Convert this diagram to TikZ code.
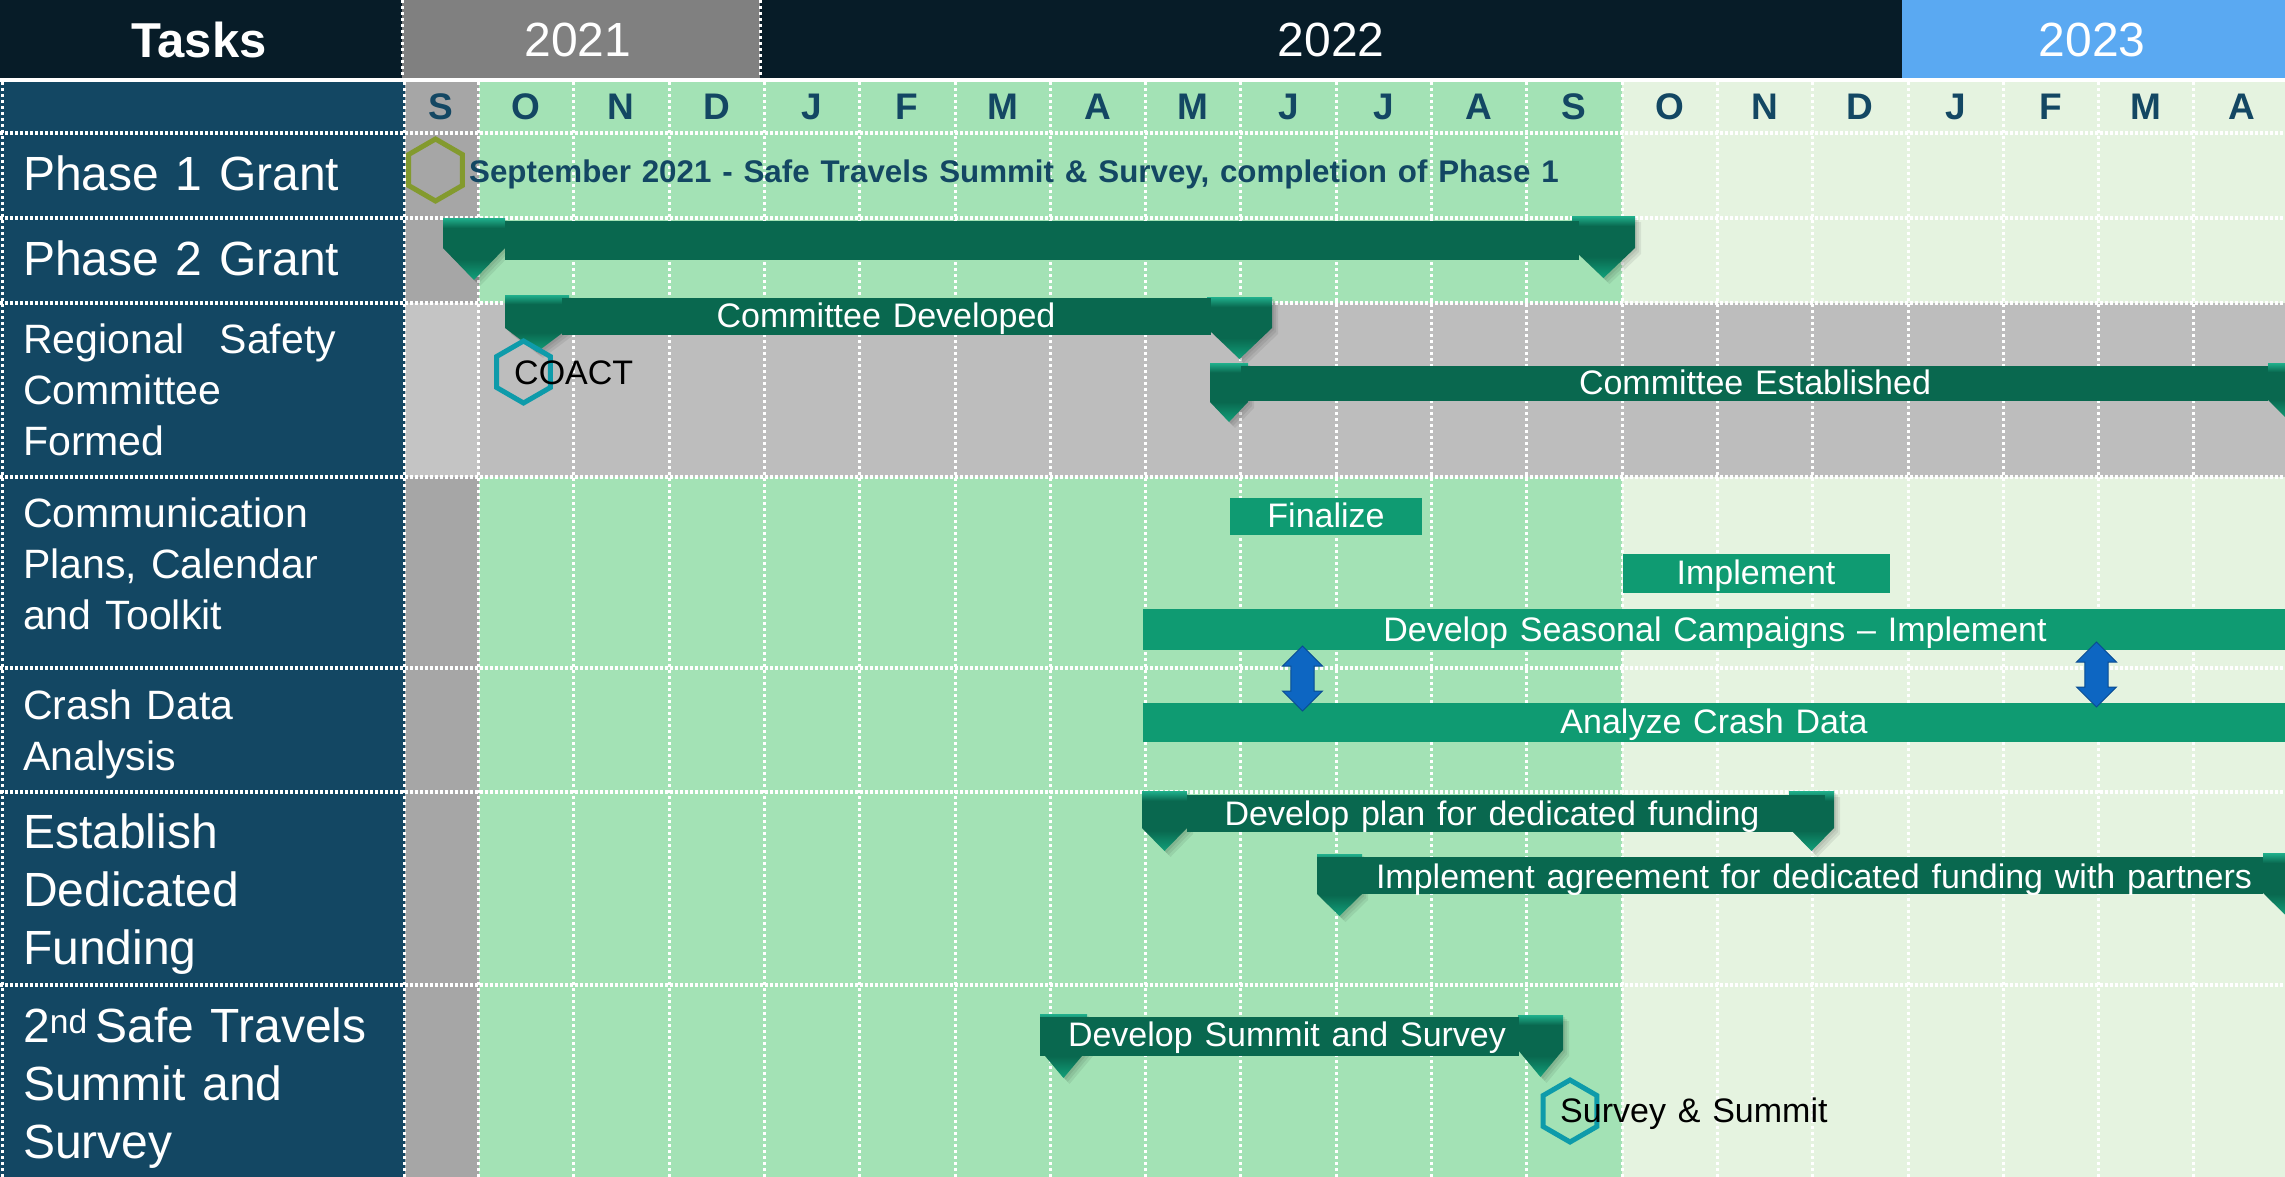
\documentclass[tikz,border=0pt]{standalone}
\usepackage{fontspec}
\setmainfont[WordSpace=1.25]{Liberation Sans}
\usetikzlibrary{shapes.geometric,shapes.arrows}
\definecolor{headdark}{HTML}{071C28}
\definecolor{taskblue}{HTML}{134763}
\definecolor{yeargrey}{HTML}{808080}
\definecolor{yearblue}{HTML}{5AA9F2}
\definecolor{greenbg}{HTML}{A3E2B5}
\definecolor{lightbg}{HTML}{E5F3E0}
\definecolor{septgrey}{HTML}{A6A6A6}
\definecolor{rowgrey}{HTML}{BDBDBD}
\definecolor{rowsept}{HTML}{C4C4C4}
\definecolor{darkbar}{HTML}{09684F}
\definecolor{midbar}{HTML}{0F9B72}
\definecolor{flagtop}{HTML}{20B08C}
\definecolor{flagtip}{HTML}{12A07A}
\definecolor{arrowblue}{HTML}{0D66C2}
\definecolor{hexolive}{HTML}{839A2E}
\definecolor{hexteal}{HTML}{0E9BAA}
\pgfdeclareverticalshading{flagshade}{100bp}{color(0bp)=(flagtip); color(25bp)=(flagtip); color(42bp)=(darkbar); color(67bp)=(darkbar); color(75bp)=(flagtop); color(100bp)=(flagtop)}
\newcommand{\fs}[2]{\fontsize{#1}{#2}\selectfont}
\newcommand{\flagmark}[5]{\path[flag] (#1,#3) -- (#2,#3) -- (#2,#4) -- ({(#1+#2)/2},#5) -- (#1,#4) -- cycle;}
\tikzset{
  rowlabel/.style={anchor=west, align=left, text=white, inner sep=0pt, font=\fs{48}{58}},
  smalllabel/.style={rowlabel, font=\fs{41}{51}},
  yearlabel/.style={text=white, inner sep=0pt, font=\fs{48}{58}},
  monthlabel/.style={text=taskblue, inner sep=0pt, font=\fs{37}{44}\bfseries},
  bartext/.style={text=white, inner sep=0pt, font=\fs{34}{40}},
  darkrun/.style={fill=darkbar, anchor=north west, inner sep=0pt, outer sep=0pt},
  midrun/.style={fill=midbar, anchor=north west, inner sep=0pt, outer sep=0pt},
  softshadow/.style={preaction={fill=black, fill opacity=.07, transform canvas={xshift=#1pt, yshift=-#1pt}}},
  flag/.style={softshadow=2, softshadow=4, softshadow=6, shade, shading=flagshade},
  hexmark/.style={regular polygon, regular polygon sides=6, shape border rotate=30, draw, line width=5pt, inner sep=0pt, minimum size=62pt},
  syncarrow/.style={double arrow, shape border rotate=90, fill=arrowblue, draw=arrowblue!75!black, line width=1pt, inner sep=9.5pt, minimum width=40pt, minimum height=65pt},
  rowline/.style={white, line width=3.5pt, dash pattern=on 3pt off 2pt},
  colline/.style={white, line width=3pt, dash pattern=on 3pt off 3pt}
}
\begin{document}
\begin{tikzpicture}[x=1pt,y=-1pt]
	\useasboundingbox (0,0) rectangle (2285,1177);
	\clip (0,0) rectangle (2285,1177);
	% backgrounds
	\fill[white] (0,0) rectangle (2285,1177);
	\fill[headdark] (0,0) rectangle (2285,78);
	\fill[yeargrey] (402,0) rectangle (760,78);
	\fill[yearblue] (1902,0) rectangle (2285,78);
	\fill[taskblue] (0,82) rectangle (405,1177);
	\fill[septgrey] (405,82) rectangle (478.5,1177);
	\fill[greenbg] (478.5,82) rectangle (1621.5,1177);
	\fill[lightbg] (1621.5,82) rectangle (2285,1177);
	\fill[rowsept] (405,303) rectangle (478.5,477);
	\fill[rowgrey] (478.5,303) rectangle (2285,477);
	% grid
	\foreach \k in {0,...,18}
		\draw[colline] ({478.5+95.3*\k},82) -- ({478.5+95.3*\k},1177);
	\draw[colline] (404,82) -- (404,1177);
	\draw[colline] (402,0) -- (402,78);
	\draw[colline] (760,0) -- (760,78);
	\draw[colline] (2,82) -- (2,1177);
	\foreach \y in {80,133,218,303,477,668,792,985}
		\draw[rowline] (0,\y) -- (2285,\y);
	% header
	\node[yearlabel, font=\fs{49}{58}\bfseries] (tasks) at (199,40) {Tasks};
	\node[yearlabel] (y2021) at (578,40) {2021};
	\node[yearlabel] (y2022) at (1331,40) {2022};
	\node[yearlabel] (y2023) at (2092,40) {2023};
	\node[monthlabel] (mS) at (441,107) {S};
	\foreach \m [count=\k from 0] in {O,N,D,J,F,M,A,M,J,J,A,S,O,N,D,J,F,M,A}
		\node[monthlabel] (m\k) at ({526+95.3*\k},107) {\m};
	% task names
	\node[rowlabel] (phaseone) at (23,173) {Phase 1 Grant};
	\node[rowlabel] (phasetwo) at (23,258) {Phase 2 Grant};
	\node[smalllabel] (regional) at (23,390) {Regional\hspace{.5em} Safety\\Committee\\Formed};
	\node[smalllabel] (commplan) at (23,564) {Communication\\Plans, Calendar\\and Toolkit};
	\node[smalllabel] (crash) at (23,734) {Crash Data\\Analysis};
	\node[rowlabel] (funding) at (23,894) {Establish\\Dedicated\\Funding};
	\node[rowlabel] (second) at (23,1088) {2\textsuperscript{nd}\hspace{-9pt} Safe Travels\\Summit and\\Survey};
	% flags
	\flagmark{443}{505}{218}{248}{280}
	\flagmark{1572}{1635}{216}{248}{278}
	\flagmark{505}{569}{295}{328}{352}
	\flagmark{1207}{1272}{297}{328}{359}
	\flagmark{1210}{1248}{363}{402}{422}
	\flagmark{2268}{2306}{363}{400}{419}
	\flagmark{1142}{1187}{791}{828}{851}
	\flagmark{1789}{1834}{791}{828}{851}
	\flagmark{1317}{1362}{854}{894}{916}
	\flagmark{2263}{2308}{853}{893}{915}
	\flagmark{1040}{1087}{1014}{1050}{1078}
	\flagmark{1518}{1563}{1015}{1050}{1077}
	% bars
	\node[darkrun, minimum width=1074pt, minimum height=39pt] (phasebar) at (505,221) {};
	\node[darkrun, minimum width=649pt, minimum height=37pt] (devcommittee) at (562,298) {};
	\node[bartext] (devcommitteetxt) at (886,319) {Committee Developed};
	\node[darkrun, minimum width=1027pt, minimum height=35pt] (estcommittee) at (1241,366) {};
	\node[bartext] (estcommitteetxt) at (1755,382) {Committee Established};
	\node[midrun, minimum width=192pt, minimum height=37pt] (finalize) at (1230,498) {};
	\node[bartext] (finalizetxt) at (1326,515) {Finalize};
	\node[midrun, minimum width=267pt, minimum height=39pt] (implement) at (1623,554) {};
	\node[bartext] (implementtxt) at (1756,576) {Implement};
	\node[midrun, minimum width=1142pt, minimum height=41pt] (seasonal) at (1143,609) {};
	\node[bartext] (seasonaltxt) at (1715,633) {Develop Seasonal Campaigns – Implement};
	\node[midrun, minimum width=1142pt, minimum height=39pt] (analyze) at (1143,703) {};
	\node[bartext] (analyzetxt) at (1714,725) {Analyze Crash Data};
	\node[darkrun, minimum width=638pt, minimum height=37pt] (planbar) at (1187,795) {};
	\node[bartext] (plantxt) at (1492,817) {Develop plan for dedicated funding};
	\node[darkrun, minimum width=946pt, minimum height=37pt] (agreebar) at (1317,857) {};
	\node[bartext] (agreetxt) at (1814,880) {Implement agreement for dedicated funding with partners};
	\node[darkrun, minimum width=479pt, minimum height=39pt] (summitbar) at (1040,1017) {};
	\node[bartext] (summittxt) at (1287,1038) {Develop Summit and Survey};
	% sync arrows
	\node[syncarrow] (syncleft) at (1302.5,678.5) {};
	\node[syncarrow] (syncright) at (2096.5,674.5) {};
	% milestones
	\node[hexmark, draw=hexolive] (hexsummit) at (435.5,170) {};
	\node[inner sep=0pt, anchor=west, text=taskblue, font=\fs{31.3}{40}\bfseries] (summitnote) at (469,174) {September 2021 - Safe Travels Summit \& Survey, completion of Phase 1};
	\node[hexmark, draw=hexteal] (hexcoact) at (523.5,372) {};
	\node[inner sep=0pt, anchor=west, font=\fs{34}{40}] (coact) at (514,373) {COACT};
	\node[hexmark, draw=hexteal] (hexsurvey) at (1570,1111) {};
	\node[inner sep=0pt, anchor=west, font=\fs{34}{40}] (survey) at (1560,1114) {Survey \& Summit};
\end{tikzpicture}
\end{document}
